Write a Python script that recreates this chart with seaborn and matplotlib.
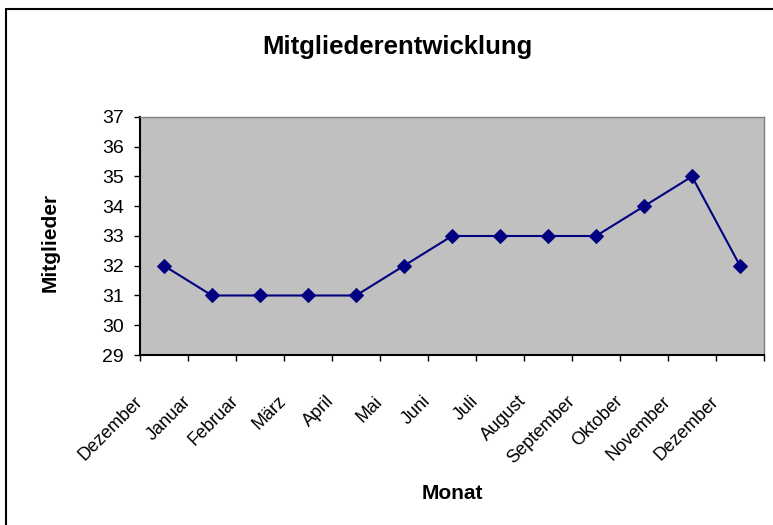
import matplotlib
matplotlib.use('Agg')
import matplotlib.pyplot as plt
from matplotlib import font_manager
from matplotlib.lines import Line2D
import seaborn as sns
import pandas as pd

# ---- data ----
months = ["Dezember", "Januar", "Februar", "März", "April", "Mai", "Juni",
          "Juli", "August", "September", "Oktober", "November", "Dezember"]
members = [32, 31, 31, 31, 31, 32, 33, 33, 33, 33, 34, 35, 32]
y_ticks = [29, 30, 31, 32, 33, 34, 35, 36, 37]

title = "Mitgliederentwicklung"
x_label = "Monat"
y_label = "Mitglieder"

sns.set_theme(style="white")
available = {f.name for f in font_manager.fontManager.ttflist}
base = 'Liberation Sans' if 'Liberation Sans' in available else 'DejaVu Sans'
narrow = 'Liberation Sans Narrow' if 'Liberation Sans Narrow' in available else base
plt.rcParams['font.family'] = [base, 'DejaVu Sans']
plt.rcParams['text.color'] = 'black'
plt.rcParams['axes.labelcolor'] = 'black'

df = pd.DataFrame({"pos": list(range(len(months))), "Mitglieder": members})

W, H = 773, 525
fig = plt.figure(figsize=(W / 100, H / 100), dpi=100)
fig.patch.set_facecolor('white')
ax = fig.add_axes([140 / W, 1 - 355 / H, 624 / W, 238 / H])
ax.set_facecolor('#C0C0C0')

sns.lineplot(data=df, x='pos', y='Mitglieder', ax=ax, color='#000080',
             linewidth=1.5, marker='D', markersize=6.8,
             markeredgecolor='#000080', markerfacecolor='#000080')

ax.set_xlim(-0.5, len(months) - 0.5)
ax.set_ylim(y_ticks[0], y_ticks[-1])
ax.set_yticks(y_ticks)
ax.set_yticklabels([str(v) for v in y_ticks], fontsize=14, color='black')

boundaries = [i - 0.5 for i in range(len(months) + 1)]
ax.set_xticks(boundaries)
ax.set_xticklabels(months + [""], rotation=45, ha='right', va='center',
                   rotation_mode='anchor', fontsize=13, fontfamily=narrow,
                   color='black')

ax.tick_params(axis='x', bottom=True, direction='out', length=4.5, width=1,
               color='black', pad=27)
ax.tick_params(axis='y', left=True, direction='out', length=4.5, width=1,
               color='black', pad=7)

for s in ['left', 'bottom']:
    ax.spines[s].set_color('black')
    ax.spines[s].set_linewidth(1.5)
for s in ['top', 'right']:
    ax.spines[s].set_color('#808080')
    ax.spines[s].set_linewidth(1.0)

ax.set_xlabel(x_label, fontsize=15, fontweight='bold', va='center', color='black')
ax.set_ylabel(y_label, fontsize=15, fontweight='bold', va='center', color='black')
ax.xaxis.set_label_coords((452 - 140) / 624, (355 - 493) / 238)
ax.yaxis.set_label_coords((50 - 140) / 624, (355 - 242) / 238)

fig.text(397 / W, 1 - 47 / H, title, ha='center', va='center',
         fontsize=18.5, fontweight='bold', color='black')

# outer chart border (left and top visible)
fig.add_artist(Line2D([6 / W, 1.0], [1 - 9 / H, 1 - 9 / H],
                      transform=fig.transFigure, color='black', lw=1.5))
fig.add_artist(Line2D([6 / W, 6 / W], [0.0, 1 - 9 / H],
                      transform=fig.transFigure, color='black', lw=1.5))

fig.savefig('out.png', dpi=100)
